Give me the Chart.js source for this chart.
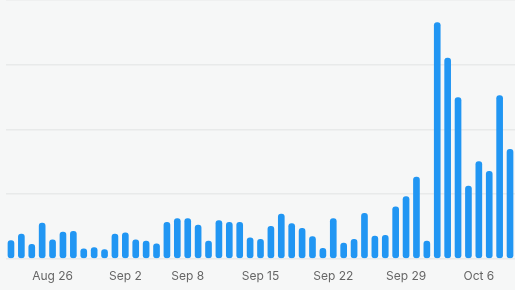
<!DOCTYPE html>
<html>
<head>
<meta charset="utf-8">
<script src="https://cdn.jsdelivr.net/npm/chart.js@4"></script>
<style>
  html, body { margin: 0; padding: 0; overflow: hidden; background: #f6f7f7; }
  #wrap { position: relative; width: 521px; height: 301px; }
</style>
</head>
<body>
<div id="wrap"><canvas id="dailyChart"></canvas></div>
<script>
// Daily counts, Aug 22 -> Oct 9 (the last bar is cut off by the frame)
const days = [
  "Aug 22", "Aug 23", "Aug 24", "Aug 25", "Aug 26", "Aug 27", "Aug 28", "Aug 29", "Aug 30", "Aug 31",
  "Sep 1", "Sep 2", "Sep 3", "Sep 4", "Sep 5", "Sep 6", "Sep 7", "Sep 8", "Sep 9", "Sep 10",
  "Sep 11", "Sep 12", "Sep 13", "Sep 14", "Sep 15", "Sep 16", "Sep 17", "Sep 18", "Sep 19", "Sep 20",
  "Sep 21", "Sep 22", "Sep 23", "Sep 24", "Sep 25", "Sep 26", "Sep 27", "Sep 28", "Sep 29", "Sep 30",
  "Oct 1", "Oct 2", "Oct 3", "Oct 4", "Oct 5", "Oct 6", "Oct 7", "Oct 8", "Oct 9"
];

const counts = [
  2.8, 3.8, 2.2, 5.5, 2.9, 4.1, 4.2, 1.5, 1.7, 1.4,
  3.8, 4.0, 2.9, 2.7, 2.3, 5.6, 6.2, 6.2, 5.2, 2.7,
  5.9, 5.6, 5.6, 3.2, 3.0, 5.0, 6.9, 5.4, 4.7, 3.4,
  1.6, 6.2, 2.4, 3.0, 7.0, 3.5, 3.6, 8.0, 9.6, 12.6,
  2.7, 36.5, 31.0, 24.9, 11.2, 15.0, 13.5, 25.2, 16.9
];

// only these dates get a label under the axis
const tickLabels = ["Aug 26", "Sep 2", "Sep 8", "Sep 15", "Sep 22", "Sep 29", "Oct 6"];

const ctx = document.getElementById("dailyChart").getContext("2d");
const dailyChart = new Chart(ctx, {
  type: "bar",
  data: {
    labels: days,
    datasets: [{
      data: counts,
      backgroundColor: "#2196f3",
      borderRadius: 3,
      borderSkipped: false,
      barThickness: 6,
    }],
  },
  options: {
    responsive: true,
    maintainAspectRatio: false,
    animation: false,
    layout: {
      padding: { left: 0, right: 3, top: 0, bottom: 6 },
    },
    plugins: {
      legend: { display: false },
      tooltip: { enabled: false },
    },
    scales: {
      x: {
        grid: { display: false, drawTicks: false },
        border: { display: false },
        ticks: {
          autoSkip: false,
          maxRotation: 0,
          padding: 11,
          color: "#666",
          font: { family: "Inter", size: 12 },
          callback: function (value) {
            const d = days[value];
            return tickLabels.includes(d) ? d : "";
          },
        },
      },
      y: {
        display: true,
        min: 0,
        max: 40,
        ticks: { display: false, stepSize: 10 },
        grid: { color: "#e8eaea", lineWidth: 1.5, drawTicks: false },
        border: { display: false },
      },
    },
  },
});
</script>
</body>
</html>
